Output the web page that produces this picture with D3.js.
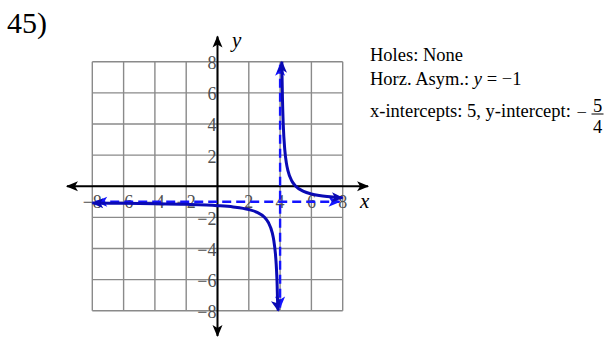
<!DOCTYPE html>
<html><head><meta charset="utf-8">
<script src="https://cdn.jsdelivr.net/npm/d3@7"></script>
<style>
html,body{margin:0;padding:0;background:#fff;}
svg{display:block;}
text{font-family:"Liberation Serif","Times New Roman",serif;}
</style></head>
<body>
<svg id="chart" width="612" height="339"></svg>
<script>
// ---- data ----
const gridValues = [-8,-6,-4,-2,0,2,4,6,8];
const xTickLabels = [-8,-6,-4,-2,2,4,6,8];
const yTickLabels = [-8,-6,-4,-2,2,4,6,8];
const vertAsymX = 4;
const horzAsymY = -1;
// left branch of the graph
const leftX = [-8,-6,-4,-2,0,1,2,2.5,3,3.25,3.5,3.6,3.7,3.75,3.8,3.85,3.889];
const leftY = [-1.083,-1.1,-1.125,-1.167,-1.25,-1.333,-1.5,-1.667,-2,-2.333,-3,-3.5,-4.333,-5,-6,-7.667,-8];
// right branch
const rightX = [4.111,4.125,4.15,4.2,4.3,4.4,4.5,4.75,5,5.5,6,6.5,7,7.5,8];
const rightY = [8,7,5.667,4,2.333,1.5,1,0.333,0,-0.333,-0.5,-0.6,-0.667,-0.714,-0.75];
const problemLabel = "45)";
const infoLines = ["Holes: None", "Horz. Asym.: ", "x-intercepts: 5, y-intercept: "];

// ---- layout ----
const svg = d3.select("#chart");
const x = d3.scaleLinear().domain([-8,8]).range([92.3,342.7]);
const y = d3.scaleLinear().domain([8,-8]).range([61.7,310.7]);
const axisExt = 9.62;
const blueCurve = "#0a0ab4";
const blueDash = "#1414ff";

const defs = svg.append("defs");
function marker(id, color, size){
  defs.append("marker").attr("id",id)
    .attr("viewBox","-12 -6 14 12").attr("refX",0).attr("refY",0)
    .attr("markerUnits","userSpaceOnUse")
    .attr("markerWidth",14*size).attr("markerHeight",12*size)
    .attr("orient","auto-start-reverse")
    .append("path").attr("d","M1,0 L-11,-5 L-8,0 L-11,5 Z").attr("fill",color);
}
marker("arrBlack","#000",1);
marker("arrBlue",blueCurve,1);
marker("arrDash",blueDash,1);

// grid
const g = svg.append("g");
g.selectAll(".vg").data(gridValues).enter().append("line")
  .attr("x1",d=>x(d)).attr("x2",d=>x(d)).attr("y1",y(8)).attr("y2",y(-8))
  .attr("stroke","#8a8a8a").attr("stroke-width",1.4);
g.selectAll(".hg").data(gridValues).enter().append("line")
  .attr("y1",d=>y(d)).attr("y2",d=>y(d)).attr("x1",x(-8)).attr("x2",x(8))
  .attr("stroke","#8a8a8a").attr("stroke-width",1.4);

// tick labels
const fmt = d => d<0 ? "\u2212"+Math.abs(d) : String(d);
g.selectAll(".xl").data(xTickLabels).enter().append("text")
  .attr("x",d=>x(d)).attr("y",y(0)+21.5).attr("text-anchor","middle")
  .attr("font-size",18).attr("fill","#505050").text(fmt);
g.selectAll(".yl").data(yTickLabels).enter().append("text")
  .attr("x",x(0)-1).attr("y",d=>y(d)+7.5).attr("text-anchor","end")
  .attr("font-size",18).attr("fill","#505050").text(fmt);

// axes
svg.append("line").attr("x1",x(-axisExt)).attr("x2",x(axisExt)).attr("y1",y(0)).attr("y2",y(0))
  .attr("stroke","#000").attr("stroke-width",2)
  .attr("marker-start","url(#arrBlack)").attr("marker-end","url(#arrBlack)");
svg.append("line").attr("y1",y(axisExt)).attr("y2",y(-axisExt)).attr("x1",x(0)).attr("x2",x(0))
  .attr("stroke","#000").attr("stroke-width",2)
  .attr("marker-start","url(#arrBlack)").attr("marker-end","url(#arrBlack)");
svg.append("text").attr("x",232).attr("y",47).attr("font-size",21).attr("font-style","italic").text("y");
svg.append("text").attr("x",360).attr("y",208).attr("font-size",21).attr("font-style","italic").text("x");

// asymptotes
svg.append("line").attr("x1",x(-7.75)).attr("x2",x(7.8)).attr("y1",y(horzAsymY)).attr("y2",y(horzAsymY))
  .attr("stroke",blueDash).attr("stroke-width",2.4).attr("stroke-dasharray","9,5")
  .attr("marker-start","url(#arrDash)").attr("marker-end","url(#arrDash)");
svg.append("line").attr("x1",x(vertAsymX)).attr("x2",x(vertAsymX)).attr("y1",y(7.8)).attr("y2",y(-7.8))
  .attr("stroke",blueDash).attr("stroke-width",2.4).attr("stroke-dasharray","9,5")
  .attr("marker-start","url(#arrDash)").attr("marker-end","url(#arrDash)");

// curve branches
const line = d3.line().x(d=>x(d[0])).y(d=>y(d[1])).curve(d3.curveMonotoneX);
svg.append("path").datum(leftX.map((v,i)=>[v,leftY[i]]))
  .attr("d",line).attr("fill","none").attr("stroke",blueCurve).attr("stroke-width",3)
  .attr("marker-start","url(#arrBlue)").attr("marker-end","url(#arrBlue)");
svg.append("path").datum(rightX.map((v,i)=>[v,rightY[i]]))
  .attr("d",line).attr("fill","none").attr("stroke",blueCurve).attr("stroke-width",3)
  .attr("marker-start","url(#arrBlue)").attr("marker-end","url(#arrBlue)");

// problem number
svg.append("text").attr("x",7).attr("y",33).attr("font-size",30).text(problemLabel);

// info text
svg.append("text").attr("x",370).attr("y",61).attr("font-size",18.5).text(infoLines[0]);
const t2 = svg.append("text").attr("x",370).attr("y",85).attr("font-size",18.5);
t2.append("tspan").text(infoLines[1]);
t2.append("tspan").attr("font-style","italic").text("y");
t2.append("tspan").text(" = \u22121");
svg.append("text").attr("x",370).attr("y",117).attr("font-size",18.5).text(infoLines[2]);
svg.append("text").attr("x",576.5).attr("y",118.5).attr("font-size",18.5).text("\u2212");
svg.append("text").attr("x",597.5).attr("y",111.5).attr("font-size",18.5).attr("text-anchor","middle").text("5");
svg.append("line").attr("x1",591.5).attr("x2",603.5).attr("y1",114).attr("y2",114).attr("stroke","#000").attr("stroke-width",1);
svg.append("text").attr("x",597.5).attr("y",133).attr("font-size",18.5).attr("text-anchor","middle").text("4");
</script>
</body></html>
